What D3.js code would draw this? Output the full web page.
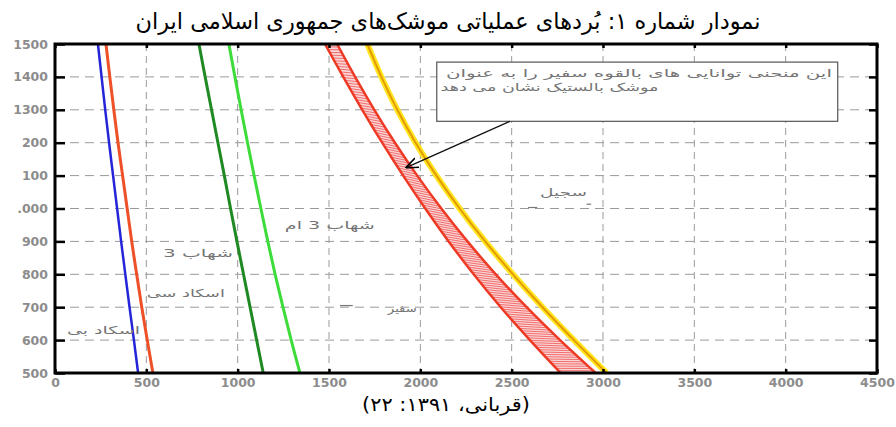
<!DOCTYPE html>
<html>
<head>
<meta charset="utf-8">
<script src="https://cdn.jsdelivr.net/npm/d3@7"></script>
<style>
  body { margin: 0; background: #fff; }
  svg { display: block; }
</style>
</head>
<body>
<svg width="896" height="427"></svg>
<script>
(function (d3) {
  "use strict";

  // ---- data ----
  var xTicks = [0, 500, 1000, 1500, 2000, 2500, 3000, 3500, 4000, 4500];
  var yTicks = [500, 600, 700, 800, 900, 1000, 1100, 1200, 1300, 1400, 1500];
  var yTickLabels = ["500", "600", "700", "800", "900", ".000", "100", "200", "1300", "1400", "1500"];

  var altitude = [1500, 1400, 1300, 1200, 1100, 1000, 900, 800, 700, 600, 500];
  var scudB = [235, 255, 275, 296, 318, 340, 362, 385, 408, 432, 455];
  var scudC = [279, 300, 322, 345, 370, 395, 420, 447, 475, 505, 536];
  var shahab3 = [788, 822, 857, 892, 927, 961, 996, 1032, 1068, 1104, 1140];
  var shahab3M = [952, 985, 1019, 1054, 1090, 1127, 1165, 1205, 1248, 1293, 1341];
  var safirLow = [1478, 1578, 1682, 1791, 1906, 2027, 2155, 2292, 2440, 2600, 2768];
  var safirHigh = [1544, 1643, 1748, 1861, 1983, 2115, 2258, 2413, 2582, 2765, 2960];
  var sejil = [1710, 1787, 1874, 1974, 2088, 2215, 2355, 2507, 2669, 2841, 3020];

  var title = "نمودار شماره ۱: بُردهای عملیاتی موشک‌های جمهوری اسلامی ایران";
  var source = "(قربانی، ۱۳۹۱: ۲۲)";
  var noteLines = ["این منحنی توانایی های بالقوه سفیر را به عنوان", "موشک بالستیک نشان می دهد"];

  // curve labels: right edge / baseline in data units, w = drawn width in px
  var curveLabels = [
    { text: "اسکاد بی", x: 465, y: 618, w: 73 },
    { text: "اسکاد سی", x: 930, y: 731, w: 78 },
    { text: "شهاب 3", x: 974, y: 853, w: 70 },
    { text: "شهاب 3 ام", x: 1751, y: 938, w: 90 },
    { text: "سجیل", x: 2912, y: 1038, w: 47 },
    { text: "سفیر", x: 1981, y: 685, w: 29 }
  ];

  var svg = d3.select("svg");
  var width = +svg.attr("width");
  var height = +svg.attr("height");

  var margin = { left: 55, right: width - 877, top: 44, bottom: height - 373 };
  var innerW = width - margin.left - margin.right;
  var innerH = height - margin.top - margin.bottom;

  var x = d3.scaleLinear().domain([0, 4500]).range([0, innerW]);
  var y = d3.scaleLinear().domain([500, 1500]).range([innerH, 0]);

  var persianFont = "'DejaVu Sans', sans-serif";

  svg.append("rect").attr("width", width).attr("height", height).attr("fill", "#fff");

  // title + source
  svg.append("text")
    .attr("x", width / 2)
    .attr("y", 29)
    .attr("text-anchor", "middle")
    .attr("direction", "rtl")
    .attr("font-family", persianFont)
    .attr("font-size", 23)
    .attr("fill", "#000")
    .attr("textLength", 625)
    .attr("lengthAdjust", "spacingAndGlyphs")
    .text(title);

  svg.append("text")
    .attr("x", width / 2 - 2)
    .attr("y", 411)
    .attr("text-anchor", "middle")
    .attr("direction", "rtl")
    .attr("font-family", persianFont)
    .attr("font-size", 19)
    .attr("fill", "#000")
    .attr("textLength", 168)
    .attr("lengthAdjust", "spacingAndGlyphs")
    .text(source);

  var defs = svg.append("defs");
  defs.append("clipPath").attr("id", "plotClip")
    .append("rect").attr("width", innerW).attr("height", innerH);
  defs.append("marker")
    .attr("id", "arrowHead")
    .attr("viewBox", "0 0 10 10")
    .attr("refX", 9).attr("refY", 5)
    .attr("markerWidth", 9).attr("markerHeight", 9)
    .attr("orient", "auto")
    .append("path").attr("d", "M0,1 L10,5 L0,9").attr("fill", "none")
    .attr("stroke", "#000").attr("stroke-width", 1.2);

  var g = svg.append("g")
    .attr("transform", "translate(" + margin.left + ", " + margin.top + ")");

  // grid
  g.append("g").selectAll("line").data(xTicks.slice(1, -1)).join("line")
    .attr("x1", function (d) { return x(d); })
    .attr("x2", function (d) { return x(d); })
    .attr("y1", 0).attr("y2", innerH)
    .attr("stroke", "#9a9a9a").attr("stroke-width", 1)
    .attr("stroke-dasharray", "7,5");
  g.append("g").selectAll("line").data(yTicks.slice(1, -1)).join("line")
    .attr("x1", 0).attr("x2", innerW)
    .attr("y1", function (d) { return y(d); })
    .attr("y2", function (d) { return y(d); })
    .attr("stroke", "#9a9a9a").attr("stroke-width", 1)
    .attr("stroke-dasharray", "9,6");

  // curves
  var plot = g.append("g").attr("clip-path", "url(#plotClip)");

  function rows(values) {
    return altitude.map(function (a, i) { return { alt: a, v: values[i] }; });
  }

  var line = d3.line()
    .x(function (d) { return x(d.v); })
    .y(function (d) { return y(d.alt); })
    .curve(d3.curveCatmullRom);

  var band = d3.area()
    .y(function (d) { return y(d.alt); })
    .x0(function (d) { return x(d.lo); })
    .x1(function (d) { return x(d.hi); })
    .curve(d3.curveCatmullRom);

  var bandRows = altitude.map(function (a, i) {
    return { alt: a, lo: safirLow[i], hi: safirHigh[i] };
  });

  plot.append("path").attr("d", band(bandRows)).attr("fill", "#fbd6d6");

  var loPath = plot.append("path").attr("d", line(rows(safirLow)))
    .attr("fill", "none").attr("stroke", "#ee3a24").attr("stroke-width", 2.5);
  var hiPath = plot.append("path").attr("d", line(rows(safirHigh)))
    .attr("fill", "none").attr("stroke", "#ee3a24").attr("stroke-width", 2.5);

  // hatching across the Safir band
  var loNode = loPath.node();
  var hiNode = hiPath.node();
  var loLen = loNode.getTotalLength();
  var hiLen = hiNode.getTotalLength();
  var hatchCount = Math.round(loLen / 3.2);
  var hatch = d3.range(1, hatchCount).map(function (i) {
    var t = i / hatchCount;
    return [loNode.getPointAtLength(t * loLen), hiNode.getPointAtLength(t * hiLen)];
  });
  plot.append("g").selectAll("line").data(hatch).join("line")
    .attr("x1", function (d) { return d[0].x; })
    .attr("y1", function (d) { return d[0].y; })
    .attr("x2", function (d) { return d[1].x; })
    .attr("y2", function (d) { return d[1].y; })
    .attr("stroke", "#f06060").attr("stroke-width", 0.9);

  loPath.raise();
  hiPath.raise();

  plot.append("path").attr("d", line(rows(sejil)))
    .attr("fill", "none").attr("stroke", "#ffe620").attr("stroke-width", 6);
  plot.append("path").attr("d", line(rows(sejil)))
    .attr("fill", "none").attr("stroke", "#e49a00").attr("stroke-width", 2);

  plot.append("path").attr("d", line(rows(scudB)))
    .attr("fill", "none").attr("stroke", "#2424d8").attr("stroke-width", 2.5);
  plot.append("path").attr("d", line(rows(scudC)))
    .attr("fill", "none").attr("stroke", "#ee5028").attr("stroke-width", 3);
  plot.append("path").attr("d", line(rows(shahab3)))
    .attr("fill", "none").attr("stroke", "#1f8a24").attr("stroke-width", 3);
  plot.append("path").attr("d", line(rows(shahab3M)))
    .attr("fill", "none").attr("stroke", "#3ddc3a").attr("stroke-width", 3);

  // curve labels
  g.append("g").selectAll("text").data(curveLabels).join("text")
    .attr("x", function (d) { return x(d.x); })
    .attr("y", function (d) { return y(d.y); })
    .attr("text-anchor", "start")
    .attr("direction", "rtl")
    .attr("font-family", persianFont)
    .attr("font-size", 11)
    .attr("fill", "#747474")
    .attr("textLength", function (d) { return d.w; })
    .attr("lengthAdjust", "spacingAndGlyphs")
    .text(function (d) { return d.text; });

  // small stray marks next to the labels
  var strayMarks = [
    { x0: 1560, x1: 1630, y: 705 },
    { x0: 2590, x1: 2640, y: 1003 },
    { x0: 2910, x1: 2935, y: 1013 }
  ];
  g.append("g").selectAll("line").data(strayMarks).join("line")
    .attr("x1", function (d) { return x(d.x0); })
    .attr("x2", function (d) { return x(d.x1); })
    .attr("y1", function (d) { return y(d.y); })
    .attr("y2", function (d) { return y(d.y); })
    .attr("stroke", "#777").attr("stroke-width", 1.2);

  // note box + arrow
  var boxX0 = 2090, boxX1 = 4285, boxY0 = 1445, boxY1 = 1265;
  var noteLayout = [{ left: 2140, w: 386 }, { left: 2110, w: 218 }];
  g.append("rect")
    .attr("x", x(boxX0)).attr("y", y(boxY0))
    .attr("width", x(boxX1) - x(boxX0))
    .attr("height", y(boxY1) - y(boxY0))
    .attr("fill", "#fff").attr("stroke", "#555").attr("stroke-width", 1.2);
  g.append("g").selectAll("text").data(noteLines).join("text")
    .attr("x", function (d, i) { return x(noteLayout[i].left); })
    .attr("y", function (d, i) { return y(boxY0) + 15 + i * 14; })
    .attr("direction", "rtl")
    .attr("text-anchor", "end")
    .attr("font-family", persianFont)
    .attr("font-size", 11)
    .attr("fill", "#747474")
    .attr("textLength", function (d, i) { return noteLayout[i].w; })
    .attr("lengthAdjust", "spacingAndGlyphs")
    .text(function (d) { return d; });
  g.append("line")
    .attr("x1", x(2490)).attr("y1", y(boxY1))
    .attr("x2", x(1925)).attr("y2", y(1125))
    .attr("stroke", "#111").attr("stroke-width", 1.4)
    .attr("marker-end", "url(#arrowHead)");

  // axes
  var labelFont = "'DejaVu Sans', sans-serif";

  var yAxis = g.append("g")
    .call(d3.axisLeft(y).tickValues(yTicks)
      .tickFormat(function (d, i) { return yTickLabels[i]; })
      .tickSizeInner(-10).tickSizeOuter(0).tickPadding(7));
  var xAxis = g.append("g")
    .attr("transform", "translate(0, " + innerH + ")")
    .call(d3.axisBottom(x).tickValues(xTicks).tickFormat(d3.format("d"))
      .tickSizeInner(-4).tickSizeOuter(0).tickPadding(5));
  g.append("g")
    .attr("transform", "translate(" + innerW + ", 0)")
    .call(d3.axisRight(y).tickValues(yTicks).tickFormat("")
      .tickSizeInner(-8).tickSizeOuter(0));
  g.append("g")
    .call(d3.axisTop(x).tickValues(xTicks).tickFormat("")
      .tickSizeInner(-4).tickSizeOuter(0));

  g.selectAll(".tick line").attr("stroke", "#000").attr("stroke-width", 2.5);
  g.selectAll(".domain").remove();
  [yAxis, xAxis].forEach(function (a) {
    a.selectAll("text")
      .attr("font-family", labelFont)
      .attr("font-size", 12.5)
      .attr("font-weight", "bold")
      .attr("fill", "#8c8c8c");
  });

  // frame
  g.append("rect")
    .attr("width", innerW).attr("height", innerH)
    .attr("fill", "none").attr("stroke", "#000").attr("stroke-width", 3);
})(d3);
</script>
</body>
</html>
